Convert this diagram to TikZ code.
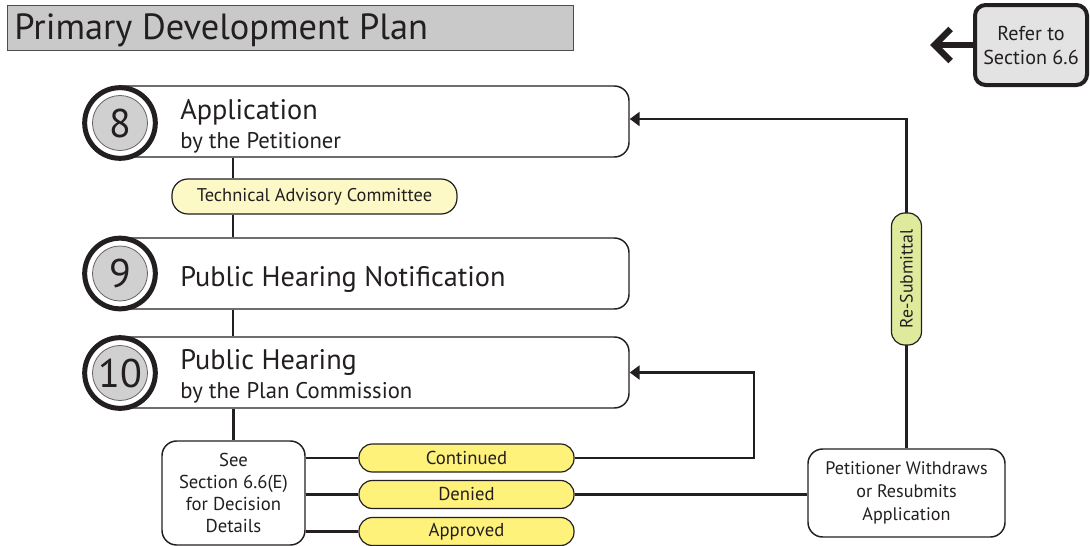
\documentclass[tikz,border=0pt]{standalone}
\usepackage{fontspec}
\setmainfont{PT Sans}
\usetikzlibrary{arrows.meta,positioning}
\definecolor{ink}{HTML}{231F20}
\definecolor{titlegray}{HTML}{C9C9C9}
\definecolor{numgray}{HTML}{D0D0D0}
\definecolor{pillyellow}{HTML}{FFF27A}
\definecolor{tacyellow}{HTML}{FCF9C6}
\definecolor{resub}{HTML}{DFEA9C}
\definecolor{refergray}{HTML}{E3E3E3}
\tikzset{
  stepbox/.style={draw=ink, line width=1.1pt, rounded corners=11pt, fill=white,
    minimum width=389.25pt, minimum height=53.25pt, inner sep=0pt},
  ringout/.style={circle, draw=ink, line width=3.75pt, fill=white, minimum size=53pt, inner sep=0pt},
  ringin/.style={circle, draw=ink!70, line width=0.6pt, fill=numgray, minimum size=41.25pt, inner sep=0pt,
    font=\fontsize{30}{30}\selectfont, text=ink},
  maintext/.style={anchor=base west, inner sep=0pt, text=ink, font=\fontsize{21.2}{24}\selectfont},
  subtext/.style={anchor=base west, inner sep=0pt, text=ink, font=\fontsize{17}{20}\selectfont},
  pill/.style={draw=ink, line width=0.9pt, rounded corners=10pt, fill=pillyellow,
    minimum width=161.25pt, minimum height=21pt, inner sep=0pt, text=ink, font=\fontsize{14}{15}\selectfont},
  infobox/.style={draw=ink, line width=1.1pt, rounded corners=11pt, fill=white, align=center,
    inner sep=0pt, text=ink, font=\fontsize{14}{16.5}\selectfont},
  link/.style={draw=ink, line width=1.9pt},
  arr/.style={link, -{Triangle[length=7.5pt,width=10.5pt]}},
}
\begin{document}
\begin{tikzpicture}[x=0.75pt,y=-0.75pt]
\useasboundingbox (0,0) rectangle (1090,546);
\fill[white] (0,0) rectangle (1090,546);

% title
\node[draw=ink!80, line width=0.9pt, fill=titlegray, minimum width=424.5pt, minimum height=33.75pt,
  anchor=north west, inner sep=0pt] (title) at (7,5) {};
\node[anchor=base west, inner sep=0pt, text=ink, font=\fontsize{27.3}{30}\selectfont] (titletext) at (14,40) {Primary Development Plan};

% refer box
\node[draw=ink, line width=3pt, rounded corners=8pt, fill=refergray, minimum width=84pt, minimum height=60pt,
  align=center, inner sep=0pt, text=ink, font=\fontsize{15.1}{18}\selectfont] (refer) at (1031,45) {Refer to\\Section 6.6};
\coordinate (refertip) at (930,45);
\draw[draw=ink, line width=4.8pt, -{Straight Barb[length=12pt,width=24pt]}] (refer.west) -- (refertip);

% spine coordinates
\coordinate (spine) at (233,0);
\coordinate (loopc) at (754,0);
\coordinate (resubx) at (906.5,119);

% step boxes
\node[stepbox] (box8) at (369.5,121.5) {};
\node[stepbox] (box9) at (369.5,273.5) {};
\node[stepbox] (box10) at (369.5,372.5) {};

% connectors along spine
\node[draw=ink, line width=0.9pt, rounded corners=12pt, fill=tacyellow, minimum width=213.75pt, minimum height=26.25pt,
  inner sep=0pt, text=ink, font=\fontsize{13.8}{15}\selectfont] (tac) at (314.5,196.5) {Technical Advisory Committee};
\draw[link] (box8.south -| spine) -- (tac.north -| spine);
\draw[link] (tac.south -| spine) -- (box9.north -| spine);
\draw[link] (box9.south -| spine) -- (box10.north -| spine);

% decision box and pills
\node[infobox, minimum width=107.25pt, minimum height=78pt] (see) at (233.5,493) {See\\Section 6.6(E)\\for Decision\\Details};
\draw[link] (box10.south -| see.north) -- (see.north);

\node[pill] (cont) at (466.5,458) {Continued};
\node[pill] (den) at (466.5,494.5) {Denied};
\node[pill] (appr) at (466.5,531.5) {Approved};
\draw[link] (cont.west -| see.east) -- (cont.west);
\draw[link] (den.west -| see.east) -- (den.west);
\draw[link] (appr.west -| see.east) -- (appr.west);

\node[infobox, minimum width=147.75pt, minimum height=66pt, font=\fontsize{13.6}{17.2}\selectfont] (pet) at (906.5,493) {Petitioner Withdraws\\or Resubmits\\Application};
\draw[link] (den.east) -- (den.east -| pet.west);

\draw[arr] (cont.east) -- (cont.east -| loopc) -- (loopc |- box10.east) -- (box10.east);
\draw[arr] (pet.north) -- (resubx) -- (box8.east |- resubx);
\node[draw=ink, line width=0.9pt, rounded corners=10pt, fill=resub, minimum width=99pt, minimum height=22.5pt,
  inner sep=0pt, rotate=90, text=ink, font=\fontsize{13.3}{14}\selectfont] (resub) at (906.5,279) {Re-Submittal};

% circles
\node[ringout] (c8) at (120,123) {};
\node[ringin] (n8) at (c8) {8};
\node[ringout] (c9) at (120,273.5) {};
\node[ringin] (n9) at (c9) {9};
\node[ringout] (c10) at (120,373) {};
\node[ringin] (n10) at (c10) {10};

% step texts
\node[maintext] (t8a) at (180,119) {Application};
\node[subtext] (t8b) at (180,148) {by the Petitioner};
\node[maintext] (t9a) at (180,286) {Public Hearing Notification};
\node[maintext] (t10a) at (180,369) {Public Hearing};
\node[subtext] (t10b) at (180,398) {by the Plan Commission};
\end{tikzpicture}
\end{document}
